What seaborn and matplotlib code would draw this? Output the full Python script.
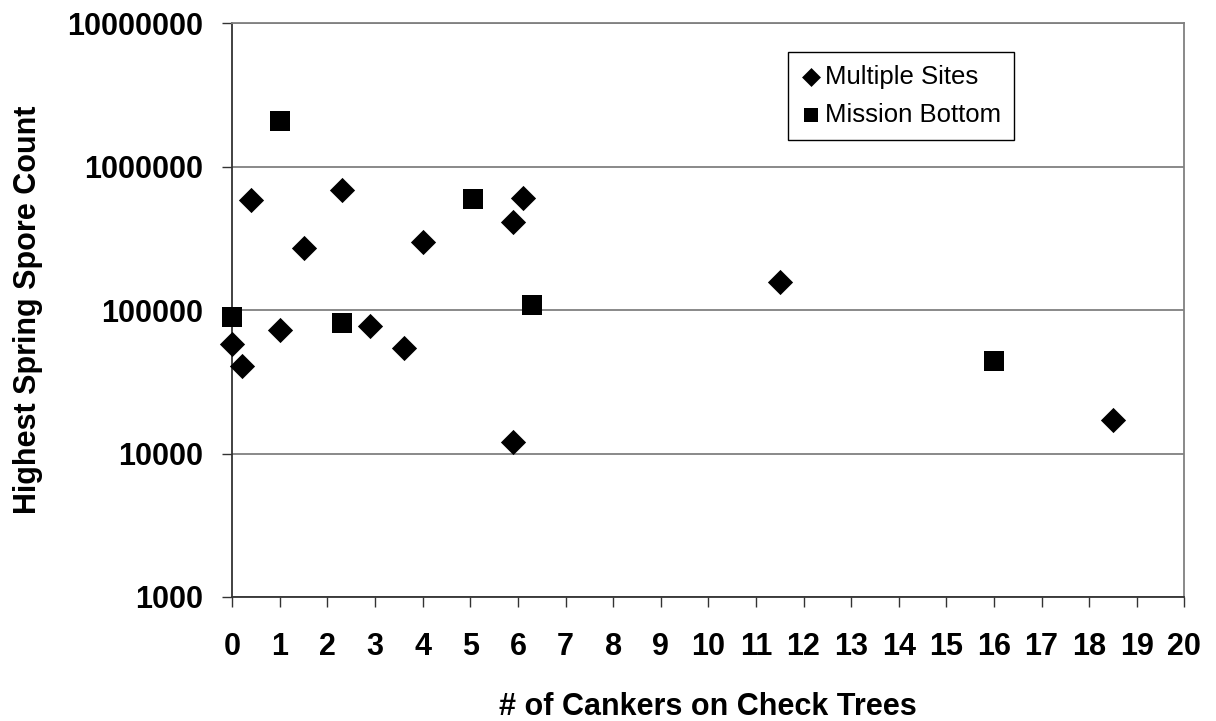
import matplotlib
matplotlib.use("Agg")
import matplotlib.pyplot as plt
import pandas as pd
import seaborn as sns

# Multiple Sites (diamonds)
multiple_x = [0, 0.2, 0.4, 1.0, 1.5, 2.3, 2.9, 3.6, 4.0, 5.9, 5.9, 6.1, 11.5, 18.5]
multiple_y = [58000, 40700, 585000, 72600, 270000, 686000, 77400, 54300, 298000,
              12100, 410000, 603000, 157000, 17100]

# Mission Bottom (squares)
mission_x = [0, 1.0, 2.3, 5.05, 6.3, 16.0]
mission_y = [89800, 2080000, 81600, 594000, 108000, 44100]

y_ticks = [1000, 10000, 100000, 1000000, 10000000]
y_tick_labels = ["1000", "10000", "100000", "1000000", "10000000"]
x_ticks = list(range(0, 21))

multi = pd.DataFrame({"x": multiple_x, "y": multiple_y})
mission = pd.DataFrame({"x": mission_x, "y": mission_y})

sns.set_style("white")
plt.rcParams["font.family"] = ["Liberation Sans", "DejaVu Sans"]
plt.rcParams["text.color"] = "black"
plt.rcParams["axes.labelcolor"] = "black"
plt.rcParams["xtick.color"] = "black"
plt.rcParams["ytick.color"] = "black"

fig, ax = plt.subplots(figsize=(12.16, 7.21), dpi=100)
fig.subplots_adjust(left=0.191, right=0.974, top=0.968, bottom=0.172)

sns.scatterplot(data=multi, x="x", y="y", marker="D", s=165, color="black",
                edgecolor="black", linewidth=0, label="Multiple Sites",
                ax=ax, clip_on=False, zorder=3)
sns.scatterplot(data=mission, x="x", y="y", marker="s", s=200, color="black",
                edgecolor="black", linewidth=0, label="Mission Bottom",
                ax=ax, clip_on=False, zorder=3)

ax.set_yscale("log")
ax.set_ylim(1000, 10000000)
ax.set_xlim(0, 20)
ax.set_yticks(y_ticks)
ax.set_yticklabels(y_tick_labels)
ax.minorticks_off()
ax.set_xticks(x_ticks)
ax.set_xticklabels([str(t) for t in x_ticks])

ax.yaxis.grid(True, color="#808080", linewidth=1.3)
ax.xaxis.grid(False)
ax.set_axisbelow(True)

for side in ["left", "bottom"]:
    ax.spines[side].set_color("#333333")
    ax.spines[side].set_linewidth(1.3)
for side in ["top", "right"]:
    ax.spines[side].set_color("#808080")
    ax.spines[side].set_linewidth(1.3)

ax.tick_params(axis="both", which="major", direction="out", length=7,
               width=1.0, color="#333333", labelcolor="black", labelsize=22)
ax.tick_params(axis="x", pad=18, bottom=True)
ax.tick_params(axis="y", pad=14, left=True)
for lab in ax.get_xticklabels() + ax.get_yticklabels():
    lab.set_fontweight("bold")

ax.set_xlabel("# of Cankers on Check Trees", fontsize=22, fontweight="bold",
              labelpad=22, color="black")
ax.set_ylabel("Highest Spring Spore Count", fontsize=22, fontweight="bold",
              labelpad=17, color="black")

leg = ax.legend(loc="upper left", bbox_to_anchor=(0.648, 0.928),
                bbox_transform=fig.transFigure, fontsize=18.5, frameon=True,
                fancybox=False, edgecolor="black", framealpha=1,
                markerscale=0.75, handletextpad=0.15, handlelength=0.8,
                borderpad=0.5, labelspacing=0.55, borderaxespad=0)
leg.get_frame().set_linewidth(1.0)

fig.savefig("out.png", dpi=100)
